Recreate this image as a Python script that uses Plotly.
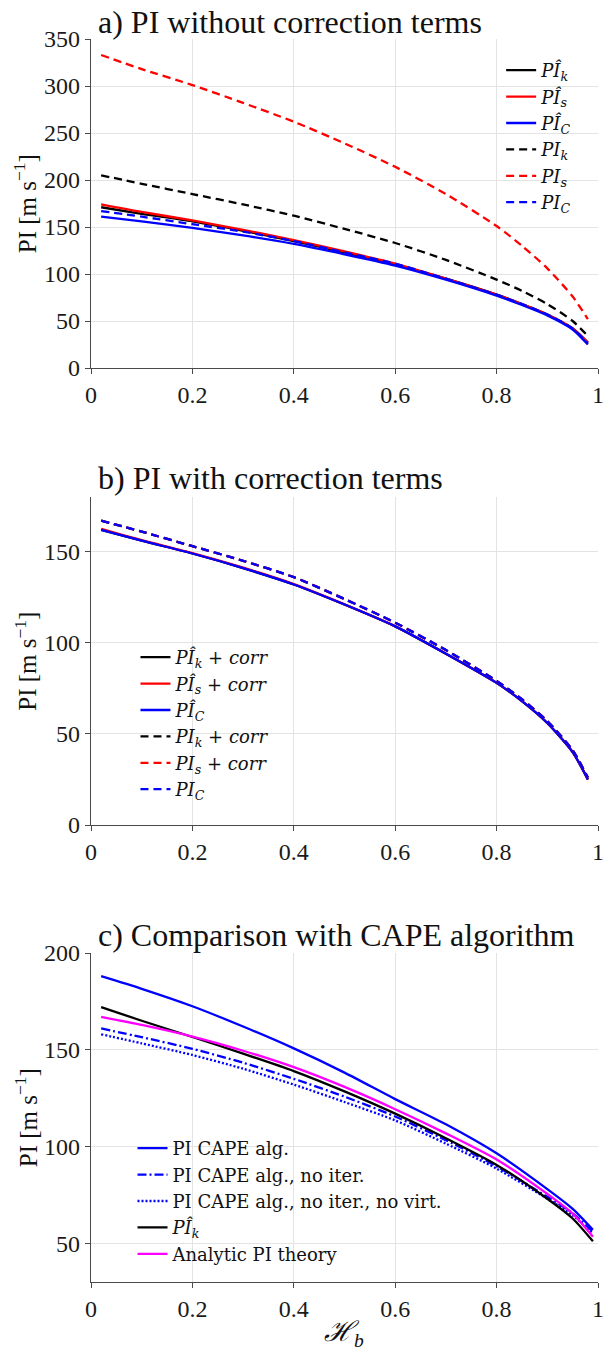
import plotly.graph_objects as go

# ---------------- data ----------------
# Panel a: PI without correction terms
hb_a = [0.02, 0.1, 0.2, 0.3, 0.4, 0.5, 0.6, 0.7, 0.8, 0.85, 0.9, 0.95, 0.98]
pihat_k_a = [171, 164, 156, 146, 135, 123, 110, 95, 78, 68, 57, 42, 27]
pihat_s_a = [174, 166, 157, 147, 136, 124, 111, 95, 78, 68, 57, 42, 27]
pihat_c_a = [161, 156, 149, 141, 132, 121, 109, 94, 77, 67, 56, 41, 25]
pi_k_a = [205, 196, 185, 174, 162, 148, 133, 115, 94, 82, 68, 50, 34]
pi_s_a = [333, 318, 301, 282, 262, 239, 214, 185, 151, 130, 106, 76, 52]
pi_c_a = [167, 161, 153, 145, 135, 123, 111, 95, 78, 68, 57, 42, 26]

# Panel b: PI with correction terms
hb_b = [0.02, 0.1, 0.2, 0.3, 0.4, 0.5, 0.6, 0.7, 0.8, 0.85, 0.9, 0.95, 0.98]
pihat_k_corr = [162, 156, 149, 141, 132, 121, 109, 94, 78, 68, 56, 40, 25]
pihat_s_corr = [162.5, 156.3, 149.2, 141.2, 132.2, 121.1, 109.1, 94, 78, 68, 56, 40, 25]
pihat_c_b = [162, 156, 149, 141, 132, 121, 109, 94, 78, 68, 56, 40, 25]
pi_k_corr = [167, 161, 153, 145, 136, 124, 111, 96, 79, 69, 57, 41, 26]
pi_s_corr = [167, 161, 153, 145, 136, 124, 111, 96, 79, 69, 57, 41, 26]
pi_c_b = [167, 161, 153, 145, 136, 124, 111, 96, 79, 69, 57, 41, 26]

# Panel c: comparison with CAPE algorithm
hb_c = [0.02, 0.1, 0.2, 0.3, 0.4, 0.5, 0.6, 0.7, 0.8, 0.9, 0.95, 0.99]
pi_cape = [188, 181.5, 172.5, 162, 150.7, 138.2, 124.5, 111.5, 96.5, 78, 67.8, 57]
pi_cape_noiter = [161, 156.5, 150.5, 143.3, 135, 125.8, 115.5, 103.3, 89.8, 74, 65.5, 56]
pi_cape_novirt = [158, 153.3, 147.3, 140.2, 132, 123, 113.5, 101.5, 88.6, 73, 64.5, 55]
pihat_k_c = [172, 165, 156.6, 148, 139, 128.5, 117, 104.3, 90.5, 73, 62.8, 51]
pi_analytic = [167, 162.8, 156.8, 149.5, 141, 130.8, 119.3, 106.8, 93.3, 75.5, 65.3, 53.4]

x_tickvals = [0, 0.2, 0.4, 0.6, 0.8, 1]
x_ticktext = ["0", "0.2", "0.4", "0.6", "0.8", "1"]
ya_ticks = [0, 50, 100, 150, 200, 250, 300, 350]
yb_ticks = [0, 50, 100, 150]
yc_ticks = [50, 100, 150, 200]

# ---------------- styling ----------------
FONT = "Liberation Serif"
LEGFONT = "DejaVu Serif"
BLACK, RED, BLUE, MAG = "#000000", "#ff0000", "#0000ff", "#ff00ff"
LW = 2.3
DASH = "8px,5px"
DASHDOT = "9px,3px,2px,3px"
DOT = "2px,2px"

fig = go.Figure()


def add(x, y, name, color, dash, xa, ya, legend):
    fig.add_trace(go.Scatter(
        x=x, y=y, name=name, mode="lines",
        line=dict(color=color, width=LW, dash=dash, shape="spline", smoothing=0.7),
        xaxis=xa, yaxis=ya, legend=legend, hoverinfo="skip"))


hk = "<i>PÎ<sub>k</sub></i>"
hs = "<i>PÎ<sub>s</sub></i>"
hc = "<i>PÎ<sub>C</sub></i>"
pk = "<i>PI<sub>k</sub></i>"
ps = "<i>PI<sub>s</sub></i>"
pc = "<i>PI<sub>C</sub></i>"
corr = " + <i>corr</i>"

add(hb_a, pihat_k_a, hk, BLACK, "solid", "x", "y", "legend")
add(hb_a, pihat_s_a, hs, RED, "solid", "x", "y", "legend")
add(hb_a, pihat_c_a, hc, BLUE, "solid", "x", "y", "legend")
add(hb_a, pi_k_a, pk, BLACK, DASH, "x", "y", "legend")
add(hb_a, pi_s_a, ps, RED, DASH, "x", "y", "legend")
add(hb_a, pi_c_a, pc, BLUE, DASH, "x", "y", "legend")

add(hb_b, pihat_k_corr, hk + corr, BLACK, "solid", "x2", "y2", "legend2")
add(hb_b, pihat_s_corr, hs + corr, RED, "solid", "x2", "y2", "legend2")
add(hb_b, pihat_c_b, hc, BLUE, "solid", "x2", "y2", "legend2")
add(hb_b, pi_k_corr, pk + corr, BLACK, DASH, "x2", "y2", "legend2")
add(hb_b, pi_s_corr, ps + corr, RED, DASH, "x2", "y2", "legend2")
add(hb_b, pi_c_b, pc, BLUE, DASH, "x2", "y2", "legend2")

add(hb_c, pi_cape, "PI CAPE alg.", BLUE, "solid", "x3", "y3", "legend3")
add(hb_c, pi_cape_noiter, "PI CAPE alg., no iter.", BLUE, DASHDOT, "x3", "y3", "legend3")
add(hb_c, pi_cape_novirt, "PI CAPE alg., no iter., no virt.", BLUE, DOT, "x3", "y3", "legend3")
add(hb_c, pihat_k_c, hk, BLACK, "solid", "x3", "y3", "legend3")
add(hb_c, pi_analytic, "Analytic PI theory", MAG, "solid", "x3", "y3", "legend3")

W, H = 608, 1352
ML, MR, MT, MB = 91, 4, 39, 70
PH = H - MT - MB


def fy(px):
    return (H - MB - px) / PH


def fx(px):
    return (px - ML) / (W - ML - MR)


GRID = "#e3e3e3"
AX = "#4a4a4a"
TICKFONT = dict(family=FONT, size=24, color="#1a1a1a")

xcommon = dict(range=[0, 1], tickvals=x_tickvals, ticktext=x_ticktext,
               showgrid=True, gridcolor=GRID, gridwidth=1, zeroline=False,
               showline=True, linecolor=AX, linewidth=1.3, ticks="outside",
               ticklen=5, tickcolor=AX, tickfont=TICKFONT, fixedrange=True,
               ticklabeloverflow="allow")
ycommon = dict(showgrid=True, gridcolor=GRID, gridwidth=1, zeroline=False,
               showline=True, linecolor=AX, linewidth=1.3, ticks="outside",
               ticklen=5, tickcolor=AX, tickfont=TICKFONT, fixedrange=True)

dom_a = [fy(368), 1.0]
dom_b = [fy(825), fy(497)]
dom_c = [0.0, fy(953)]

legfont = dict(family=LEGFONT, size=18, color="#111111")
legcommon = dict(bgcolor="rgba(0,0,0,0)", borderwidth=0, font=legfont,
                 xanchor="left", yanchor="top", tracegroupgap=0)

fig.update_layout(
    width=W, height=H,
    margin=dict(l=ML, r=MR, t=MT, b=MB),
    paper_bgcolor="white", plot_bgcolor="white",
    font=dict(family=FONT, color="#111111"),
    xaxis=dict(**xcommon, domain=[0, 1], anchor="y"),
    yaxis=dict(**ycommon, domain=dom_a, range=[0, 350], tickvals=ya_ticks, anchor="x"),
    xaxis2=dict(**xcommon, domain=[0, 1], anchor="y2"),
    yaxis2=dict(**ycommon, domain=dom_b, range=[0, 180], tickvals=yb_ticks, anchor="x2"),
    xaxis3=dict(**xcommon, domain=[0, 1], anchor="y3"),
    yaxis3=dict(**ycommon, domain=dom_c, range=[30, 200], tickvals=yc_ticks, anchor="x3"),
    legend=dict(**legcommon, x=fx(506), y=fy(52)),
    legend2=dict(**legcommon, x=fx(136), y=fy(639)),
    legend3=dict(**legcommon, x=fx(133), y=fy(1130)),
    showlegend=True,
)

titles = [("a) PI without correction terms", 22),
          ("b) PI with correction terms", 478),
          ("c) Comparison with CAPE algorithm", 935)]
for txt, ypx in titles:
    fig.add_annotation(text=txt, xref="paper", yref="paper", x=fx(96), y=fy(ypx),
                       xanchor="left", yanchor="middle", showarrow=False,
                       font=dict(family=FONT, size=32, color="#111111"))

for top, bot in [(39, 368), (497, 825), (953, 1282)]:
    fig.add_annotation(text="PI [m s<sup>−1</sup>]", xref="paper", yref="paper",
                       x=fx(25), y=fy((top + bot) / 2), xanchor="center", yanchor="middle",
                       textangle=-90, showarrow=False,
                       font=dict(family=FONT, size=25, color="#111111"))

fig.add_annotation(text="<i>ℋ<sub>b</sub></i>", xref="paper", yref="paper",
                   x=fx(347), y=fy(1333), xanchor="center", yanchor="middle",
                   showarrow=False, font=dict(family=FONT, size=28, color="#111111"))

fig.write_html("out.html")
